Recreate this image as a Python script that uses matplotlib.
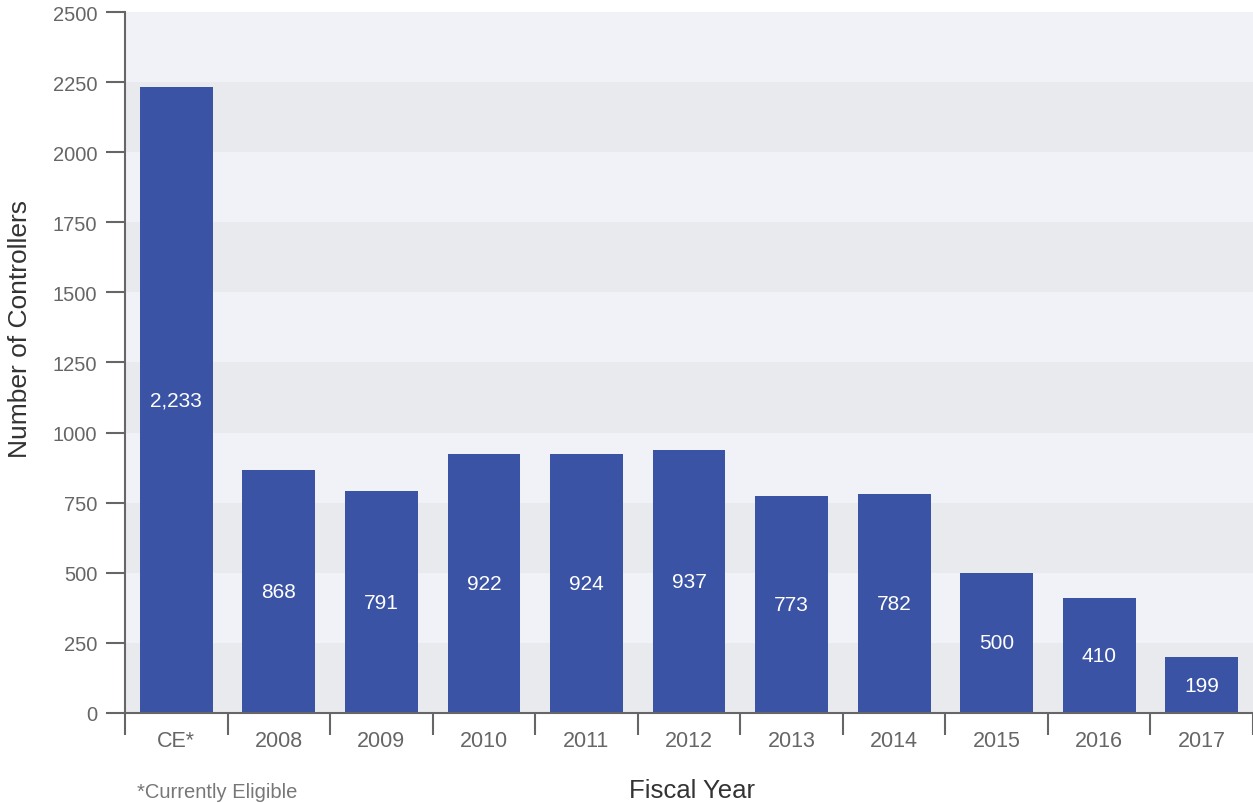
import matplotlib
matplotlib.use("Agg")
import matplotlib.pyplot as plt

categories = ["CE*", "2008", "2009", "2010", "2011", "2012", "2013", "2014", "2015", "2016", "2017"]
controllers = [2233, 868, 791, 922, 924, 937, 773, 782, 500, 410, 199]
value_labels = ["2,233", "868", "791", "922", "924", "937", "773", "782", "500", "410", "199"]
y_ticks = [0, 250, 500, 750, 1000, 1250, 1500, 1750, 2000, 2250, 2500]

plt.rcParams["font.family"] = ["Liberation Sans", "DejaVu Sans"]

fig = plt.figure(figsize=(12.53, 8.04), dpi=100)
ax = fig.add_axes([0.0998, 0.112, 0.9002, 0.8718])

n = len(categories)
ax.set_xlim(-0.5, n - 0.5)
ax.set_ylim(0, 2500)

# alternating horizontal bands
light, dark = "#f1f2f7", "#e9eaed"
for i in range(len(y_ticks) - 1):
    ax.axhspan(y_ticks[i], y_ticks[i + 1], color=dark if i % 2 == 0 else light,
               lw=0, zorder=0)

xs = list(range(n))
ax.bar(xs, controllers, width=0.71, color="#3b53a4", zorder=2)
for x, v, lab in zip(xs, controllers, value_labels):
    ax.text(x, v / 2, lab, ha="center", va="center", color="white",
            fontsize=15, zorder=3)

grey = "#666666"
for side in ["top", "right"]:
    ax.spines[side].set_visible(False)
for side in ["left", "bottom"]:
    ax.spines[side].set_color(grey)
    ax.spines[side].set_linewidth(1.5)

ax.set_yticks(y_ticks)
ax.set_yticklabels([str(t) for t in y_ticks])
ax.tick_params(axis="y", length=14, width=1.5, color=grey, labelcolor=grey,
               labelsize=14.5, pad=6)

# category labels centred, tick marks at category boundaries
ax.set_xticks([i - 0.5 for i in range(n + 1)])
ax.set_xticklabels([])
ax.tick_params(axis="x", length=16, width=1.5, color=grey)
ax.set_xticks(xs, minor=True)
ax.set_xticklabels(categories, minor=True)
ax.tick_params(axis="x", which="minor", length=0, labelcolor=grey,
               labelsize=15.5, pad=12)

ax.set_ylabel("Number of Controllers", fontsize=19, color="#333333",
              va="center")
ax.yaxis.set_label_coords(-0.093, 0.549)
fig.text(0.552, 0.008, "Fiscal Year", fontsize=18.5, color="#333333", ha="center",
         va="baseline")
fig.text(0.109, 0.008, "*Currently Eligible", fontsize=14.5, color="#777777",
         ha="left", va="baseline")

fig.savefig("out.png", dpi=100)
